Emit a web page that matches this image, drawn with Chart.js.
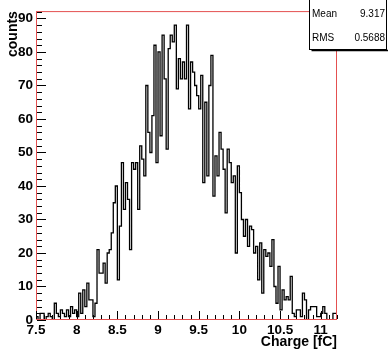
<!DOCTYPE html>
<html>
<head>
<meta charset="utf-8">
<script src="https://cdn.jsdelivr.net/npm/chart.js@4"></script>
<style>
  html, body { margin: 0; padding: 0; background: #fff; }
</style>
</head>
<body>
<canvas id="myChart" width="388" height="352"></canvas>
<script>
// histogram contents, 148 bins of 0.025 fC starting at 7.5
const binStart = 7.5;
const binWidth = 0.025;
const counts = [
  2, 1, 0, 2, 2, 0, 1, 2, 1, 0,
  5, 2, 1, 3, 2, 1, 3, 1, 4, 2,
  3, 1, 8, 2, 9, 4, 11, 6, 6, 1,
  5, 21, 14, 14, 17, 11, 20, 21, 26, 35,
  40, 12, 28, 47, 33, 41, 36, 21, 47, 45,
  47, 33, 52, 48, 43, 70, 56, 50, 61, 82,
  47, 80, 55, 85, 72, 51, 81, 85, 83, 88,
  69, 78, 72, 77, 72, 88, 63, 77, 74, 70,
  67, 63, 73, 41, 65, 43, 70, 79, 37, 49,
  43, 56, 51, 45, 32, 51, 47, 41, 43, 20,
  46, 38, 30, 25, 30, 22, 28, 27, 20, 22,
  12, 23, 8, 21, 19, 20, 16, 24, 10, 5,
  16, 3, 9, 6, 7, 6, 13, 2, 1, 3,
  3, 1, 8, 6, 0, 3, 4, 4, 4, 1,
  1, 2, 4, 2, 0, 0, 0, 2
];
const xTicks = [7.5, 8, 8.5, 9, 9.5, 10, 10.5, 11];
const yTicks = [0, 10, 20, 30, 40, 50, 60, 70, 80, 90];
const statNames = ['Mean', 'RMS'];
const statValues = ['9.317', '0.5688'];

const points = counts.map((c, i) => ({ x: binStart + i * binWidth, y: c }));
points.push({ x: binStart + counts.length * binWidth, y: counts[counts.length - 1] });

const fontFam = '"Liberation Sans", Arial, Helvetica, sans-serif';
const frameRed = 'rgb(228, 80, 80)';

// ROOT style frame, inward ticks and stats box
const rootFrame = {
  id: 'rootFrame',
  afterDraw(chart) {
    const ctx = chart.ctx;
    const a = chart.chartArea;
    const xs = chart.scales.x;
    const ys = chart.scales.y;
    ctx.save();

    ctx.strokeStyle = frameRed;
    ctx.lineWidth = 1;
    ctx.strokeRect(a.left + 0.5, a.top + 0.5, a.right - a.left - 1, a.bottom - a.top - 1);

    ctx.strokeStyle = '#000';
    ctx.beginPath();
    for (let v = 0; v <= ys.max; v += 2) {
      const y = Math.round(ys.getPixelForValue(v)) + 0.5;
      const len = v % 10 === 0 ? 9 : 5;
      ctx.moveTo(a.left + 1, y);
      ctx.lineTo(a.left + 1 + len, y);
    }
    for (let k = 75; k <= 112; k++) {
      const x = Math.round(xs.getPixelForValue(k / 10)) + 0.5;
      const len = k % 5 === 0 ? 8 : 4;
      ctx.moveTo(x, a.bottom - 1);
      ctx.lineTo(x, a.bottom - 1 - len);
    }
    ctx.stroke();

    // stats box
    const bx = 309.5, by = -0.5, bw = 77, bh = 50;
    ctx.fillStyle = '#fff';
    ctx.fillRect(bx, by, bw, bh);
    ctx.strokeStyle = '#000';
    ctx.strokeRect(bx, by, bw, bh);
    ctx.lineWidth = 1.5;
    ctx.beginPath();
    ctx.moveTo(bx + 2, by + bh + 1);
    ctx.lineTo(388, by + bh + 1);
    ctx.stroke();

    ctx.fillStyle = '#000';
    ctx.font = '10px ' + fontFam;
    ctx.textBaseline = 'alphabetic';
    statNames.forEach((name, i) => {
      const y = 17 + i * 24;
      ctx.textAlign = 'left';
      ctx.fillText(name, 312, y);
      ctx.textAlign = 'right';
      ctx.fillText(statValues[i], 385, y);
    });
    ctx.restore();
  }
};

const ctx = document.getElementById('myChart');

new Chart(ctx, {
  type: 'line',
  data: {
    datasets: [{
      data: points,
      stepped: 'after',
      borderColor: '#000',
      borderWidth: 1.3,
      pointRadius: 0,
      fill: false,
    }]
  },
  options: {
    responsive: false,
    animation: false,
    layout: { padding: { top: 10, right: 51, left: 0, bottom: 0 } },
    plugins: {
      legend: { display: false },
      tooltip: { enabled: false },
    },
    scales: {
      x: {
        type: 'linear',
        min: 7.5,
        max: 11.2,
        grid: { display: false, drawTicks: false },
        border: { display: false },
        afterBuildTicks: (s) => { s.ticks = xTicks.map(v => ({ value: v })); },
        afterFit: (s) => { s.height = 32; },
        ticks: {
          autoSkip: false,
          maxRotation: 0,
          padding: 2,
          color: '#000',
          font: { family: fontFam, size: 13.5, weight: 'bold' },
          callback: (v) => String(v),
        },
        title: {
          display: true,
          text: 'Charge [fC]',
          align: 'end',
          color: '#000',
          padding: { top: 0, bottom: 1 },
          font: { family: fontFam, size: 14, weight: 'bold' },
        }
      },
      y: {
        min: 0,
        max: 92.2,
        grid: { display: false, drawTicks: false },
        border: { display: false },
        afterBuildTicks: (s) => { s.ticks = yTicks.map(v => ({ value: v })); },
        afterFit: (s) => { s.width = 36; },
        ticks: {
          autoSkip: false,
          padding: 3,
          color: '#000',
          font: { family: fontFam, size: 13.5, weight: 'bold' },
          callback: (v) => String(v),
        },
        title: {
          display: true,
          text: 'counts',
          align: 'end',
          color: '#000',
          padding: { top: 4.5, bottom: 0 },
          font: { family: fontFam, size: 14, weight: 'bold' },
        }
      }
    }
  },
  plugins: [rootFrame]
});
</script>
</body>
</html>
